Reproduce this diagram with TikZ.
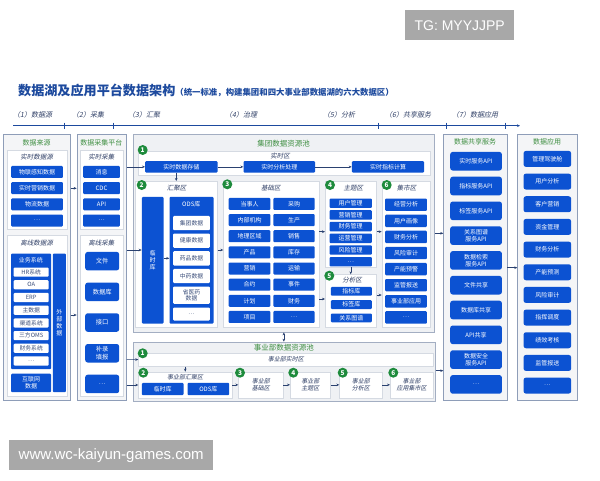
\documentclass[tikz,border=0pt]{standalone}
\usepackage{fontspec}
\setmainfont{Noto Sans CJK SC}
\newfontfamily\slfont[FakeSlant=0.2]{Noto Sans CJK SC}
\newfontfamily\wmfont{Liberation Sans}
\usetikzlibrary{arrows.meta}
\definecolor{bblue}{HTML}{0C52D2}
\definecolor{titlec}{HTML}{1D4A9E}
\definecolor{colb}{HTML}{8E9DB8}
\definecolor{colf}{HTML}{F4F5F7}
\definecolor{zoneb}{HTML}{D5DAE2}
\definecolor{poolb}{HTML}{A3AEC2}
\definecolor{poolf}{HTML}{EFF1F4}
\definecolor{tgreen}{HTML}{3E8E41}
\definecolor{cgreen}{HTML}{1E8B3C}
\definecolor{hdrc}{HTML}{2F3F66}
\definecolor{wtext}{HTML}{3B4E7A}
\definecolor{arrc}{HTML}{2A4170}
\definecolor{wmgray}{HTML}{A8A8A8}
\newcommand{\rbox}[7]{\node[#1, anchor=north west, minimum width={#5-#3}, minimum height={#6-#4}] (#2) at (#3,#4) {#7};}
\begin{document}
\begin{tikzpicture}[x=1pt,y=-1pt,
  bb/.style={fill=bblue, text=white, inner sep=0pt, rounded corners=1pt, align=center, font=\fontsize{6}{7.2}\selectfont},
  rbb/.style={bb, rounded corners=2.5pt},
  wb/.style={fill=white, text=wtext, inner sep=0pt, rounded corners=1pt, align=center, font=\fontsize{5.8}{7}\selectfont},
  col/.style={draw=colb, fill=colf, line width=0.7pt},
  zone/.style={draw=zoneb, fill=white, line width=0.5pt, align=center, text=hdrc, font=\slfont\fontsize{6}{7}\selectfont},
  pool/.style={draw=poolb, fill=poolf, line width=0.7pt},
  ttl/.style={text=tgreen, inner sep=0pt, font=\fontsize{7}{8}\selectfont},
  hdr/.style={text=hdrc, inner sep=0pt, font=\slfont\fontsize{6.5}{7.5}\selectfont},
  stg/.style={text=hdrc, inner sep=0pt, anchor=west, font=\slfont\fontsize{7}{8}\selectfont},
  num/.style={circle, fill=cgreen, text=white, inner sep=0pt, minimum size=10pt, font=\fontsize{6.5}{7}\selectfont\bfseries},
  arr/.style={draw=arrc, line width=0.5pt, -{Stealth[length=3pt,width=2.6pt]}},
  arrd/.style={draw=arrc, line width=0.5pt, {Stealth[length=3pt,width=2.6pt]}-{Stealth[length=3pt,width=2.6pt]}},
  wm/.style={fill=wmgray, text=white, inner sep=0pt, font=\wmfont}]
\fill[white] (0,0) rectangle (600,480);
\useasboundingbox (0,0) rectangle (600,480);

% watermarks
\rbox{wm, font=\wmfont\fontsize{14}{16}\selectfont}{wmA}{405}{10}{514}{40}{TG: MYYJJPP}
\rbox{wm, font=\wmfont\fontsize{15}{17}\selectfont}{wmB}{9}{440}{213}{470}{www.wc-kaiyun-games.com}

% title
\node[anchor=west, text=titlec, inner sep=0pt] (title) at (18,90)
  {{\fontsize{13.1}{15}\selectfont\bfseries 数据湖及应用平台数据架构}{\fontsize{8.4}{9}\selectfont\bfseries （统一标准，构建集团和四大事业部数据湖的六大数据区）}};

% stage axis
\node[stg] (st1) at (13,115) {（1）数据源};
\node[stg] (st2) at (72,115) {（2）采集};
\node[stg] (st3) at (128,115) {（3）汇聚};
\node[stg] (st4) at (225,115) {（4）治理};
\node[stg] (st5) at (323,115) {（5）分析};
\node[stg] (st6) at (385,115) {（6）共享服务};
\node[stg] (st7) at (452,115) {（7）数据应用};
\coordinate (ax0) at (13,125.7);
\coordinate (ax1) at (520,125.7);
\draw[arr, draw=titlec] (ax0) -- (ax1);
\foreach \x in {64,113,378,446,505}{\draw[draw=titlec, line width=0.5pt] (\x,122.5) -- (\x,128.5);}

% ---------- column 1: data sources
\rbox{col}{src}{3.3}{134.3}{70}{400}{}
\node[ttl] (srcT) at (36.7,143.3) {数据来源};
\rbox{zone}{srcA}{6.7}{150}{66.7}{229}{}
\node[hdr] (srcAh) at (36.7,156.7) {实时数据源};
\foreach \t [count=\i from 0] in {物联感知数据,实时营销数据,物流数据,…}{
  \pgfmathsetmacro\yy{165.7+16.2*\i}
  \rbox{bb}{s\i}{11}{\yy}{62.7}{\yy+12}{\t}}
\rbox{zone}{srcB}{6.7}{235}{66.7}{396}{}
\node[hdr] (srcBh) at (36.7,243.3) {离线数据源};
\rbox{bb}{yw}{11}{253.3}{51}{369}{}
\node[text=white, inner sep=0pt, font=\fontsize{6}{7}\selectfont] (ywT) at (31,260) {业务系统};
\foreach \t [count=\i from 0] in {HR系统,OA,ERP,主数据,渠道系统,三方OMS,财务系统,…}{
  \pgfmathsetmacro\yy{267.3+12.7*\i}
  \rbox{wb}{w\i}{13.5}{\yy}{48.5}{\yy+9.2}{\t}}
\rbox{bb}{wbsj}{52.7}{253.3}{65.7}{392}{外\\部\\数\\据}
\rbox{bb}{hlw}{11}{373.5}{51}{392}{互联网\\数据}

% ---------- column 2: collection
\rbox{col}{cj}{76.7}{134.3}{126}{400}{}
\node[ttl] (cjT) at (101.3,143.3) {数据采集平台};
\rbox{zone}{cjA}{80}{150}{122.7}{229}{}
\node[hdr] (cjAh) at (101.3,156.7) {实时采集};
\foreach \t [count=\i from 0] in {消息,CDC,API,…}{
  \pgfmathsetmacro\yy{165.7+16.2*\i}
  \rbox{bb}{c\i}{83}{\yy}{119.7}{\yy+12}{\t}}
\rbox{zone}{cjB}{80}{235}{122.7}{396}{}
\node[hdr] (cjBh) at (101.3,243.3) {离线采集};
\foreach \t [count=\i from 0] in {文件,数据库,接口,补录\\填报,…}{
  \pgfmathsetmacro\yy{251.7+30.7*\i}
  \rbox{rbb, font=\fontsize{6.3}{8}\selectfont}{d\i}{85}{\yy}{119}{\yy+18.5}{\t}}

% ---------- group pool
\rbox{pool}{gp}{132.7}{134.3}{434.3}{331.7}{}
\node[ttl, font=\fontsize{7.5}{8}\selectfont] (gpT) at (283.5,143.3) {集团数据资源池};
\rbox{zone}{sq}{137.5}{151}{430}{175}{}
\node[hdr] (sqh) at (280,156) {实时区};
\rbox{bb}{rt1}{145}{161}{217.3}{172.3}{实时数据存储}
\rbox{bb}{rt2}{243.3}{161}{315}{172.3}{实时分析处理}
\rbox{bb}{rt3}{351.7}{161}{424}{172.3}{实时指标计算}
% hui ju
\rbox{zone}{hz}{135}{181}{217}{327}{}
\node[hdr] (hzh) at (176.7,188.3) {汇聚区};
\rbox{bb}{lsk}{141.7}{196.7}{163.3}{323.3}{临\\时\\库}
\rbox{bb}{ods}{169.3}{196.7}{213.3}{323.3}{}
\node[text=white, inner sep=0pt, font=\fontsize{6}{7}\selectfont] (odsT) at (191.3,204.5) {ODS库};
\rbox{wb}{o0}{173}{215.7}{209.6}{230}{集团数据}
\rbox{wb}{o1}{173}{233.3}{209.6}{247.7}{健康数据}
\rbox{wb}{o2}{173}{251}{209.6}{265.3}{药品数据}
\rbox{wb}{o3}{173}{268.6}{209.6}{282.9}{中药数据}
\rbox{wb, font=\fontsize{5.8}{6.8}\selectfont}{o4}{173}{286.3}{209.6}{303.7}{省医药\\数据}
\rbox{wb}{o5}{173}{307.3}{209.6}{320.3}{…}
% ji chu
\rbox{zone}{jc}{223.3}{181}{318.5}{327}{}
\node[hdr] (jch) at (270.9,188.3) {基础区};
\foreach \a/\b [count=\i from 0] in {当事人/采购,内部机构/生产,地理区域/销售,产品/库存,营销/运输,合约/事件,计划/财务,项目/…}{
  \pgfmathsetmacro\yy{197.7+16.15*\i}
  \rbox{bb}{ja\i}{228.5}{\yy}{270.2}{\yy+12}{\a}
  \rbox{bb}{jb\i}{273.2}{\yy}{314.5}{\yy+12}{\b}}
% zhu ti
\rbox{zone}{zt}{325}{181}{376}{266.7}{}
\node[hdr] (zth) at (353.3,188.3) {主题区};
\foreach \t [count=\i from 0] in {用户管理,营销管理,财务管理,运营管理,风险管理,…}{
  \pgfmathsetmacro\yy{198.3+11.7*\i}
  \rbox{bb}{z\i}{329.3}{\yy}{371.7}{\yy+9.4}{\t}}
% fen xi
\rbox{zone}{fx}{325}{274.3}{376}{327}{}
\node[hdr] (fxh) at (352,280.5) {分析区};
\foreach \t [count=\i from 0] in {指标库,标签库,关系图谱}{
  \pgfmathsetmacro\yy{286.7+13.3*\i}
  \rbox{bb}{f\i}{330.7}{\yy}{371.7}{\yy+8.8}{\t}}
% ji shi
\rbox{zone}{js}{381.7}{181}{430}{327}{}
\node[hdr] (jsh) at (406.7,188.3) {集市区};
\foreach \t [count=\i from 0] in {经营分析,用户画像,财务分析,风险审计,产能预警,监管报送,事业部应用,…}{
  \pgfmathsetmacro\yy{198.3+16.1*\i}
  \rbox{bb}{m\i}{385}{\yy}{426.7}{\yy+12.4}{\t}}
% numbers
\node[num] (g1) at (142.7,150) {1};
\node[num] (g2) at (141.7,185) {2};
\node[num] (g3) at (227.3,184.3) {3};
\node[num] (g4) at (330,185) {4};
\node[num] (g5) at (329.3,275.7) {5};
\node[num] (g6) at (386.7,185) {6};

% ---------- business unit pool
\rbox{pool}{bp}{132.7}{341.7}{435}{400.5}{}
\node[ttl, font=\fontsize{7.5}{8}\selectfont] (bpT) at (283.8,348) {事业部数据资源池};
\rbox{zone}{busq}{138.3}{352.7}{432.7}{366}{事业部实时区}
\rbox{zone}{buhz}{138.3}{371.7}{231.7}{397.5}{}
\node[hdr, font=\slfont\fontsize{6}{7}\selectfont] (buhzh) at (185,377) {事业部汇聚区};
\rbox{bb}{bulsk}{141.7}{382.7}{183.3}{395}{临时库}
\rbox{bb}{buods}{187.3}{382.7}{229}{395}{ODS库}
\rbox{zone}{bujc}{238.3}{371.7}{282.7}{397.5}{事业部\\基础区}
\rbox{zone}{buzt}{290}{371.7}{330}{397.5}{事业部\\主题区}
\rbox{zone}{bufx}{339.3}{371.7}{381.7}{397.5}{事业部\\分析区}
\rbox{zone}{buyy}{390}{371.7}{432.7}{397.5}{事业部\\应用集市区}
\node[num] (b1) at (142.7,353.3) {1};
\node[num] (b2) at (143.3,372.7) {2};
\node[num] (b3) at (240,372.7) {3};
\node[num] (b4) at (293.3,372.7) {4};
\node[num] (b5) at (342.7,372.7) {5};
\node[num] (b6) at (393.3,372.7) {6};

% ---------- column 6: shared services
\rbox{col}{gx}{443.3}{134.3}{506.7}{400}{}
\node[ttl] (gxT) at (475,141.7) {数据共享服务};
\foreach \t [count=\i from 0] in {实时服务API,指标服务API,标签服务API,关系图谱\\服务API,数据检索\\服务API,文件共享,数据库共享,API共享,数据安全\\服务API,…}{
  \pgfmathsetmacro\yy{151.7+24.8*\i}
  \rbox{rbb}{x\i}{450}{\yy}{501.7}{\yy+18.6}{\t}}

% ---------- column 7: applications
\rbox{col}{yy}{517.3}{134.3}{576.7}{400}{}
\node[ttl] (yyT) at (547,141.7) {数据应用};
\foreach \t [count=\i from 0] in {管理驾驶舱,用户分析,客户营销,资金管理,财务分析,产能预测,风险审计,指挥调度,绩效考核,监管报送,…}{
  \pgfmathsetmacro\yy{150.7+22.67*\i}
  \rbox{rbb}{a\i}{523.3}{\yy}{571}{\yy+16}{\t}}

% ---------- connectors
\coordinate (yS1) at (0,188.3);
\coordinate (yS2) at (0,315);
\coordinate (yL) at (0,250);
\coordinate (yB1) at (0,359.35);
\coordinate (yB2) at (0,385);
\coordinate (yO) at (0,258.3);
\coordinate (yZ) at (0,231.7);
\coordinate (yF) at (0,299);
\coordinate (yF2) at (0,295);
\coordinate (yG) at (0,233.3);
\coordinate (yBP) at (0,370.7);
\coordinate (yA) at (0,267.7);
\draw[arr] (src.east |- yS1) -- (cj.west |- yS1);
\draw[arr] (src.east |- yS2) -- (cj.west |- yS2);
\draw[arr] (cj.east |- rt1.west) -- (rt1.west);
\draw[arr] (cj.east |- yL) -- (lsk.west |- yL);
\draw[arr] (cj.east |- yB1) -- (busq.west);
\draw[arr] (cj.east |- yB2) -- (buhz.west |- yB2);
\draw[arr] (rt1.east) -- (rt2.west);
\draw[arr] (rt2.east) -- (rt3.west);
\draw[arr] (hz.north |- rt1.south) -- (hz.north);
\draw[arr] (lsk.east |- yO) -- (ods.west |- yO);
\draw[arr] (hz.east |- yL) -- (jc.west |- yL);
\draw[arr] (jc.east |- yZ) -- (zt.west |- yZ);
\draw[arr] (jc.east |- yF) -- (fx.west |- yF);
\draw[arr] (zt.south) -- (fx.north);
\draw[arr] (zt.east |- yZ) -- (js.west |- yZ);
\draw[arr] (fx.east |- yF2) -- (js.west |- yF2);
\draw[arr] (gp.east |- yG) -- (gx.west |- yG);
\draw[arrd] (gp.south) -- (gp.south |- bp.north);
\draw[arr] (buhz.north |- busq.south) -- (buhz.north);
\draw[arr] (buhz.east) -- (bujc.west);
\draw[arr] (bujc.east) -- (buzt.west);
\draw[arr] (buzt.east) -- (bufx.west);
\draw[arr] (bufx.east) -- (buyy.west);
\draw[arr] (bp.east |- yBP) -- (gx.west |- yBP);
\draw[arr] (gx.east |- yA) -- (yy.west |- yA);
\end{tikzpicture}
\end{document}
